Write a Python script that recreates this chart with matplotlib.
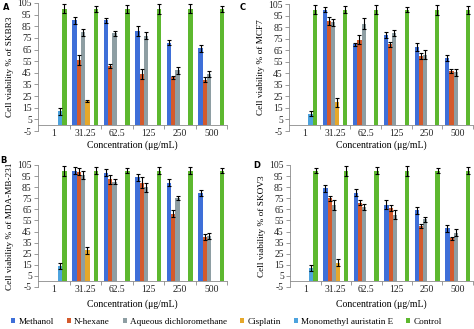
import numpy as np
import matplotlib
matplotlib.use("Agg")
import matplotlib.pyplot as plt
from matplotlib.patches import Patch

nan = np.nan
categories = ["1", "31.25", "62.5", "125", "250", "500"]
series_names = ["Methanol", "N-hexane", "Aqueous dichloromethane", "Cisplatin",
                "Monomethyl auristatin E", "Control"]
colors = ["#3E6FD8", "#D45A2C", "#8E9EA3", "#E6A82A", "#4DA3DE", "#5DB82F"]
yticks = list(range(-5, 106, 10))

# Panel A: SKBR3
skbr3_methanol = [nan, 90, 90, 81, 71, 66]
skbr3_nhexane = [nan, 56, 51, 44, 41, 39]
skbr3_dcm = [nan, 80, 79, 77, 47, 44]
skbr3_cisplatin = [nan, 21, nan, nan, nan, nan]
skbr3_mmae = [12, nan, nan, nan, nan, nan]
skbr3_control = [100, 100, 100, 100, 100, 100]
skbr3_methanol_err = [nan, 3, 2, 4, 2, 3]
skbr3_nhexane_err = [nan, 4, 2, 4, 1.5, 2]
skbr3_dcm_err = [nan, 3, 2, 3, 3, 2.5]
skbr3_cisplatin_err = [nan, 1, nan, nan, nan, nan]
skbr3_mmae_err = [3, nan, nan, nan, nan, nan]
skbr3_control_err = [4, 2.5, 3.5, 4.5, 4, 2.5]

# Panel B: MDA-MB-231
mda_methanol = [nan, 100, 98, 94, 89, 80]
mda_nhexane = [nan, 99, 92, 89, 61, 40]
mda_dcm = [nan, 96, 90, 85, 75, 41]
mda_cisplatin = [nan, 28, nan, nan, nan, nan]
mda_mmae = [14, nan, nan, nan, nan, nan]
mda_control = [100, 100, 100, 100, 100, 100]
mda_methanol_err = [nan, 3, 3, 3, 3, 2.5]
mda_nhexane_err = [nan, 3, 4, 5, 3, 2.5]
mda_dcm_err = [nan, 4, 2.5, 4, 2, 3]
mda_cisplatin_err = [nan, 3.5, nan, nan, nan, nan]
mda_mmae_err = [2.5, nan, nan, nan, nan, nan]
mda_control_err = [4.5, 3, 2.5, 3, 3.5, 2.5]

# Panel C: MCF7
mcf7_methanol = [nan, 100, 70, 78, 68, 58]
mcf7_nhexane = [nan, 90, 74, 70, 60, 47]
mcf7_dcm = [nan, 89, 88, 80, 61, 46]
mcf7_cisplatin = [nan, 20, nan, nan, nan, nan]
mcf7_mmae = [10, nan, nan, nan, nan, nan]
mcf7_control = [100, 100, 100, 100, 100, 100]
mcf7_methanol_err = [nan, 2, 1, 2.5, 3.5, 2.5]
mcf7_nhexane_err = [nan, 3.5, 4, 2, 2.5, 2]
mcf7_dcm_err = [nan, 3, 4.5, 2.5, 4, 3]
mcf7_cisplatin_err = [nan, 4, nan, nan, nan, nan]
mcf7_mmae_err = [2, nan, nan, nan, nan, nan]
mcf7_control_err = [4, 3, 4, 2, 4.5, 3.5]

# Panel D: SKOV3
skov3_methanol = [nan, 84, 80, 69, 64, 48]
skov3_nhexane = [nan, 75, 71, 66, 50, 39]
skov3_dcm = [nan, 69, 67, 60, 56, 44]
skov3_cisplatin = [nan, 17, nan, nan, nan, nan]
skov3_mmae = [12, nan, nan, nan, nan, nan]
skov3_control = [100, 100, 100, 100, 100, 100]
skov3_methanol_err = [nan, 3, 3, 4, 3, 3]
skov3_nhexane_err = [nan, 2.5, 2, 2.5, 2, 1.5]
skov3_dcm_err = [nan, 4.5, 3, 4, 2.5, 3]
skov3_cisplatin_err = [nan, 3.5, nan, nan, nan, nan]
skov3_mmae_err = [3, nan, nan, nan, nan, nan]
skov3_control_err = [2.5, 4.5, 3.5, 4.5, 2.5, 3]

panels = [
    ("A", "Cell viability % of SKBR3",
     [skbr3_methanol, skbr3_nhexane, skbr3_dcm, skbr3_cisplatin, skbr3_mmae, skbr3_control],
     [skbr3_methanol_err, skbr3_nhexane_err, skbr3_dcm_err, skbr3_cisplatin_err, skbr3_mmae_err, skbr3_control_err],
     [38, 3, 227, 131], (3, 8), 145),
    ("C", "Cell viability % of MCF7",
     [mcf7_methanol, mcf7_nhexane, mcf7_dcm, mcf7_cisplatin, mcf7_mmae, mcf7_control],
     [mcf7_methanol_err, mcf7_nhexane_err, mcf7_dcm_err, mcf7_cisplatin_err, mcf7_mmae_err, mcf7_control_err],
     [289, 4, 473, 131], (240, 7), 145),
    ("B", "Cell viability % of MDA-MB-231",
     [mda_methanol, mda_nhexane, mda_dcm, mda_cisplatin, mda_mmae, mda_control],
     [mda_methanol_err, mda_nhexane_err, mda_dcm_err, mda_cisplatin_err, mda_mmae_err, mda_control_err],
     [38, 165, 227, 287], (0, 160), 304),
    ("D", "Cell viability % of SKOV3",
     [skov3_methanol, skov3_nhexane, skov3_dcm, skov3_cisplatin, skov3_mmae, skov3_control],
     [skov3_methanol_err, skov3_nhexane_err, skov3_dcm_err, skov3_cisplatin_err, skov3_mmae_err, skov3_control_err],
     [290, 165, 473, 287], (253, 166), 304),
]

W, H = 474, 329
plt.rcParams["font.family"] = ["Liberation Serif", "DejaVu Serif"]
fig = plt.figure(figsize=(W / 100, H / 100), dpi=100)

x = np.arange(len(categories))
bw = 0.135
axis_col = "#8a8a8a"

for letter, ylabel, vals, errs, box, lpos, xlab_y in panels:
    l, t, r, b = box
    ax = fig.add_axes([l / W, 1 - b / H, (r - l) / W, (b - t) / H])
    for i, (v, e) in enumerate(zip(vals, errs)):
        off = (i - 2.5) * bw
        ax.bar(x + off, v, width=bw, color=colors[i], linewidth=0, zorder=2)
        ax.errorbar(x + off, v, yerr=e, fmt="none", ecolor="black",
                    elinewidth=0.8, capsize=1.5, capthick=0.8, zorder=3)
    ax.set_xlim(-0.5, 5.5)
    ax.set_ylim(-5, 105)
    ax.set_yticks(yticks, labels=[str(v) for v in yticks])
    ax.set_xticks(x, labels=categories)
    ax.set_xticks(np.arange(0.5, 6, 1), minor=True)
    ax.tick_params(axis="both", which="both", labelsize=6.9, labelcolor="#222222")
    ax.tick_params(axis="x", which="major", length=0, pad=2.5)
    ax.tick_params(axis="x", which="minor", length=3, width=0.6, color=axis_col)
    ax.tick_params(axis="y", length=3, width=0.6, color=axis_col, pad=1.5)
    for s in ["top", "right"]:
        ax.spines[s].set_visible(False)
    ax.spines["bottom"].set_position(("data", 0))
    ax.spines["bottom"].set_color(axis_col)
    ax.spines["left"].set_color(axis_col)
    ax.spines["bottom"].set_linewidth(0.6)
    ax.spines["left"].set_linewidth(0.6)
    ax.set_ylabel(ylabel, fontsize=6.7, labelpad=2.5)
    ax.set_xlabel("Concentration (μg/mL)", fontsize=7)
    ax.xaxis.set_label_coords(0.5, -(xlab_y - b) / (b - t))
    ax.xaxis.label.set_va("center")
    fig.text(lpos[0] / W, 1 - lpos[1] / H, letter, fontsize=6, fontweight="bold",
             family="DejaVu Sans", ha="left", va="center")

handles = [Patch(facecolor=c, edgecolor="none") for c in colors]
fig.legend(handles, series_names, loc="center", bbox_to_anchor=(0.478, 1 - 322 / H),
           ncol=6, frameon=False, fontsize=6.6, handlelength=0.45, handleheight=0.45,
           handletextpad=0.35, columnspacing=1.4, borderaxespad=0)

fig.savefig("out.png", dpi=100)
